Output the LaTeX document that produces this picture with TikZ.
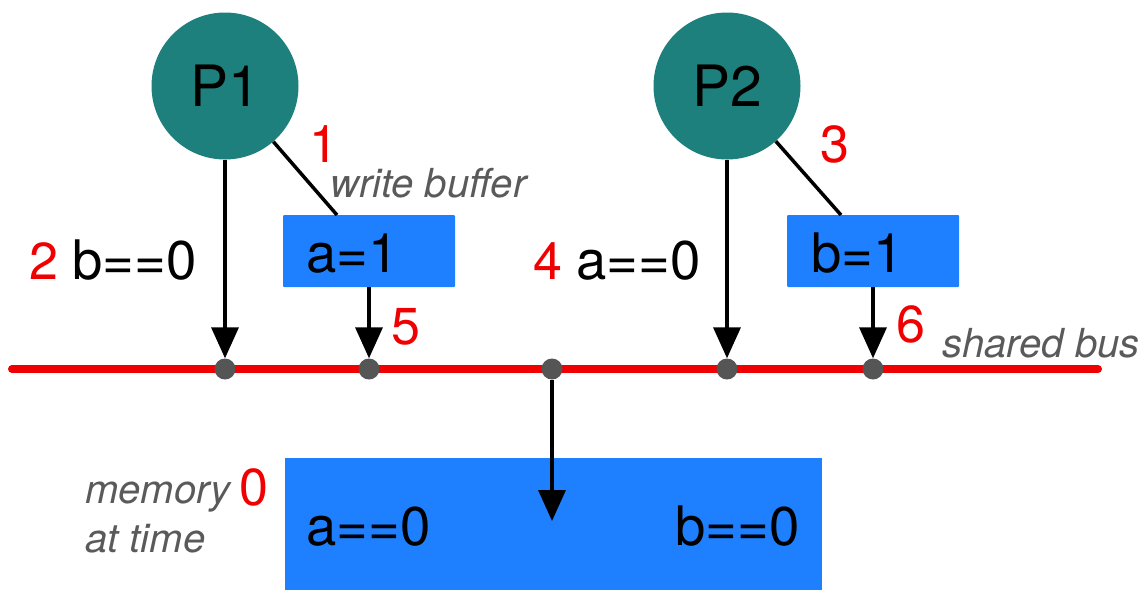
\documentclass[tikz,border=0pt]{standalone}
\usepackage{fontspec}
\setmainfont{TeX Gyre Heros}
\usetikzlibrary{arrows.meta}
\definecolor{teal1}{RGB}{30,128,124}
\definecolor{blue1}{RGB}{30,128,255}
\definecolor{red1}{RGB}{240,0,0}
\definecolor{gray1}{RGB}{90,90,90}
\definecolor{dot1}{RGB}{85,85,85}
\tikzset{
  proc/.style={circle,fill=teal1,minimum size=147pt,inner sep=0pt,font=\fontsize{57}{60}\selectfont},
  buf/.style={fill=blue1,rounded corners=1pt},
  lbl/.style={anchor=base west,inner sep=0pt,font=\fontsize{54.5}{58}\selectfont},
  num/.style={anchor=base west,inner sep=0pt,text=red1,font=\fontsize{52}{56}\selectfont},
  note/.style={anchor=base west,inner sep=0pt,text=gray1,font=\fontsize{40}{44}\selectfont\itshape},
  busdot/.style={circle,fill=dot1,minimum size=21pt,inner sep=0pt},
  arr/.style={line width=3.5pt,-{Triangle[width=27pt,length=31pt]}},
  wire/.style={line width=3.5pt},
}
\begin{document}
\begin{tikzpicture}[x=1pt,y=-1pt]
\useasboundingbox (0,0) rectangle (1145,590);
% memory
\fill[blue1] (285,458) rectangle (822,590);
\node[lbl] (ma) at (306,545) {a==0};
\node[lbl] (mb) at (675,545) {b==0};
\node[note] (mem1) at (85,503) {memory};
\node[note] (mem2) at (85,552) {at time};
\node[num] (n0) at (239,505) {0};
% processors
\node[proc] (P1) at (225,86) {P1};
\node[proc] (P2) at (727,86) {P2};
% write buffers
\node[buf,minimum width=172pt,minimum height=72pt,inner sep=0pt] (wa) at (369,251) {};
\node[buf,minimum width=172pt,minimum height=72pt,inner sep=0pt] (wb) at (873,251) {};
\node[lbl] (ta) at (306,272) {a=1};
\node[lbl] (tb) at (811,272) {b=1};
\coordinate (ca) at (337,215);
\coordinate (cb) at (841,215);
\draw[wire] (P1) -- (ca);
\draw[wire] (P2) -- (cb);
% bus
\coordinate (busL) at (12,369);
\coordinate (busR) at (1098,369);
\draw[red1,line width=8pt,line cap=round] (busL) -- (busR);
\node[busdot] (d1) at (225,369) {};
\node[busdot] (d2) at (369,369) {};
\node[busdot] (d3) at (552,369) {};
\node[busdot] (d4) at (727,369) {};
\node[busdot] (d5) at (873,369) {};
% arrows
\draw[arr] (P1) -- (d1.north);
\draw[arr] (wa) -- (d2.north);
\draw[arr] (P2) -- (d4.north);
\draw[arr] (wb) -- (d5.north);
\coordinate (m1) at (552,521);
\draw[arr] (d3.south) -- (m1);
% labels
\node[num] (n1) at (309,162) {1};
\node[num] (n3) at (820,162) {3};
\node[note] (wbuf) at (330,197) {write buffer};
\node[num] (n2) at (29,279) {2};
\node[lbl] (l2) at (72,279) {b==0};
\node[num] (n4) at (533,279) {4};
\node[lbl] (l4) at (576,279) {a==0};
\node[num] (n5) at (391,344) {5};
\node[num] (n6) at (896,342) {6};
\node[note] (sbus) at (942,357) {shared bus};
\end{tikzpicture}
\end{document}
